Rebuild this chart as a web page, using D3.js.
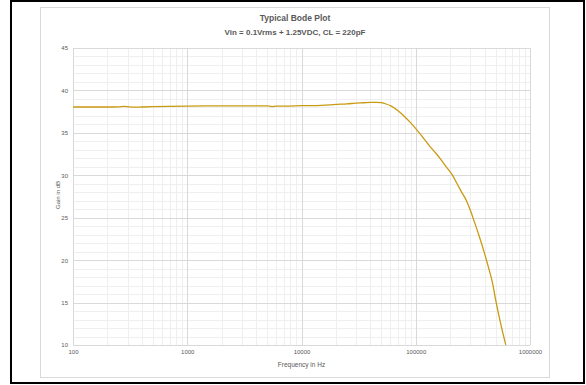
<!DOCTYPE html>
<html>
<head>
<meta charset="utf-8">
<script src="https://cdn.jsdelivr.net/npm/d3@7"></script>
<style>
  html, body { margin: 0; padding: 0; background: #fff; }
  svg { display: block; }
</style>
</head>
<body>
<svg id="chart" width="586" height="385"></svg>
<script>
// Frequency response samples (Hz) and measured gain (dB)
const freqHz = [100, 150, 200, 250, 280, 310, 350, 400, 500, 700, 1000, 2000, 3000, 5000, 5500, 6000, 7000,
  10000, 15000, 20000, 25000, 30000, 35000, 40000, 45000, 50000, 55000, 60000, 70000, 80000, 90000,
  100000, 115000, 133000, 150000, 165000, 180000, 195000, 210000, 230000, 250000, 278000, 300000, 330000,
  356000, 400000, 436000, 470000, 501000, 550000, 614000];
const gainDb = [38.05, 38.05, 38.05, 38.07, 38.12, 38.05, 38.03, 38.05, 38.08, 38.12, 38.15, 38.18, 38.18,
  38.18, 38.1, 38.15, 38.15, 38.2, 38.25, 38.35, 38.42, 38.5, 38.55, 38.6, 38.6, 38.55, 38.4, 38.2,
  37.6, 36.9, 36.2, 35.5, 34.5, 33.4, 32.6, 31.9, 31.2, 30.6, 30.0, 29.0, 28.1, 27.0, 25.9, 24.3, 23.0,
  20.8, 19.0, 17.3, 15.3, 12.7, 10.0];

// Axis ticks
const xTicks = [100, 1000, 10000, 100000, 1000000];
const yTicks = [10, 15, 20, 25, 30, 35, 40, 45];

const titleText = "Typical Bode Plot";
const subtitleText = "Vin = 0.1Vrms + 1.25VDC, CL = 220pF";
const xTitle = "Frequency in Hz";
const yTitle = "Gain in dB";

const svg = d3.select("#chart");
const font = "'Liberation Sans', Arial, sans-serif";
const textColor = "#595959";

// Outer frame and chart box
svg.append("rect").attr("x", 11).attr("y", 1).attr("width", 573).attr("height", 382)
  .attr("fill", "none").attr("stroke", "#000").attr("stroke-width", 2);
svg.append("rect").attr("x", 40.5).attr("y", 7.5).attr("width", 509).attr("height", 370)
  .attr("fill", "#fff").attr("stroke", "#d9d9d9").attr("stroke-width", 1);

const plot = { left: 73, right: 530, top: 48, bottom: 345 };

const x = d3.scaleLog().domain([100, 1000000]).range([plot.left, plot.right]);
const y = d3.scaleLinear().domain([10, 45]).range([plot.bottom, plot.top]);

const g = svg.append("g");

// Minor grid
const minorX = [];
for (let d = 100; d < 1000000; d *= 10) for (let k = 2; k <= 9; k++) minorX.push(d * k);
const minorY = d3.range(10, 46, 1).filter(v => v % 5 !== 0);

g.append("g").attr("class", "grid-minor-x").selectAll("line").data(minorX).join("line")
  .attr("x1", d => Math.round(x(d)) + 0.5).attr("x2", d => Math.round(x(d)) + 0.5)
  .attr("y1", plot.top).attr("y2", plot.bottom)
  .attr("stroke", "#efefef").attr("stroke-width", 1);
g.append("g").attr("class", "grid-minor-y").selectAll("line").data(minorY).join("line")
  .attr("x1", plot.left).attr("x2", plot.right)
  .attr("y1", d => Math.round(y(d)) + 0.5).attr("y2", d => Math.round(y(d)) + 0.5)
  .attr("stroke", "#efefef").attr("stroke-width", 1);

// Major grid
g.append("g").attr("class", "grid-major-x").selectAll("line").data(xTicks).join("line")
  .attr("x1", d => Math.round(x(d)) + 0.5).attr("x2", d => Math.round(x(d)) + 0.5)
  .attr("y1", plot.top).attr("y2", plot.bottom)
  .attr("stroke", "#d9d9d9").attr("stroke-width", 1);
g.append("g").attr("class", "grid-major-y").selectAll("line").data(yTicks).join("line")
  .attr("x1", plot.left).attr("x2", plot.right)
  .attr("y1", d => Math.round(y(d)) + 0.5).attr("y2", d => Math.round(y(d)) + 0.5)
  .attr("stroke", "#d9d9d9").attr("stroke-width", 1);

// Axes (labels only, no domain lines)
const xAxis = d3.axisBottom(x).tickValues(xTicks).tickFormat(d3.format("d")).tickSize(0).tickPadding(5);
const yAxis = d3.axisLeft(y).tickValues(yTicks).tickFormat(d3.format("d")).tickSize(0).tickPadding(5);

const gx = svg.append("g").attr("transform", `translate(0,${plot.bottom})`).call(xAxis);
const gy = svg.append("g").attr("transform", `translate(${plot.left},0)`).call(yAxis);
[gx, gy].forEach(a => {
  a.select(".domain").remove();
  a.selectAll("text").attr("fill", textColor).style("font-family", font).style("font-size", "6px");
});

// Response curve
const pts = freqHz.map((f, i) => [f, gainDb[i]]);
const line = d3.line().x(d => x(d[0])).y(d => y(d[1])).curve(d3.curveMonotoneX);
svg.append("path").datum(pts).attr("d", line)
  .attr("fill", "none").attr("stroke", "#c99a10").attr("stroke-width", 1.3);

// Titles
svg.append("text").attr("x", 295).attr("y", 21).attr("text-anchor", "middle")
  .attr("fill", textColor).style("font-family", font).style("font-weight", "bold").style("font-size", "8.5px")
  .text(titleText);
svg.append("text").attr("x", 295).attr("y", 35).attr("text-anchor", "middle")
  .attr("fill", textColor).style("font-family", font).style("font-weight", "bold").style("font-size", "8px")
  .text(subtitleText);
svg.append("text").attr("x", (plot.left + plot.right) / 2).attr("y", 367).attr("text-anchor", "middle")
  .attr("fill", textColor).style("font-family", font).style("font-size", "6.5px")
  .text(xTitle);
svg.append("text").attr("transform", "translate(60,195) rotate(-90)").attr("text-anchor", "middle")
  .attr("fill", textColor).style("font-family", font).style("font-size", "6px")
  .text(yTitle);
</script>
</body>
</html>
